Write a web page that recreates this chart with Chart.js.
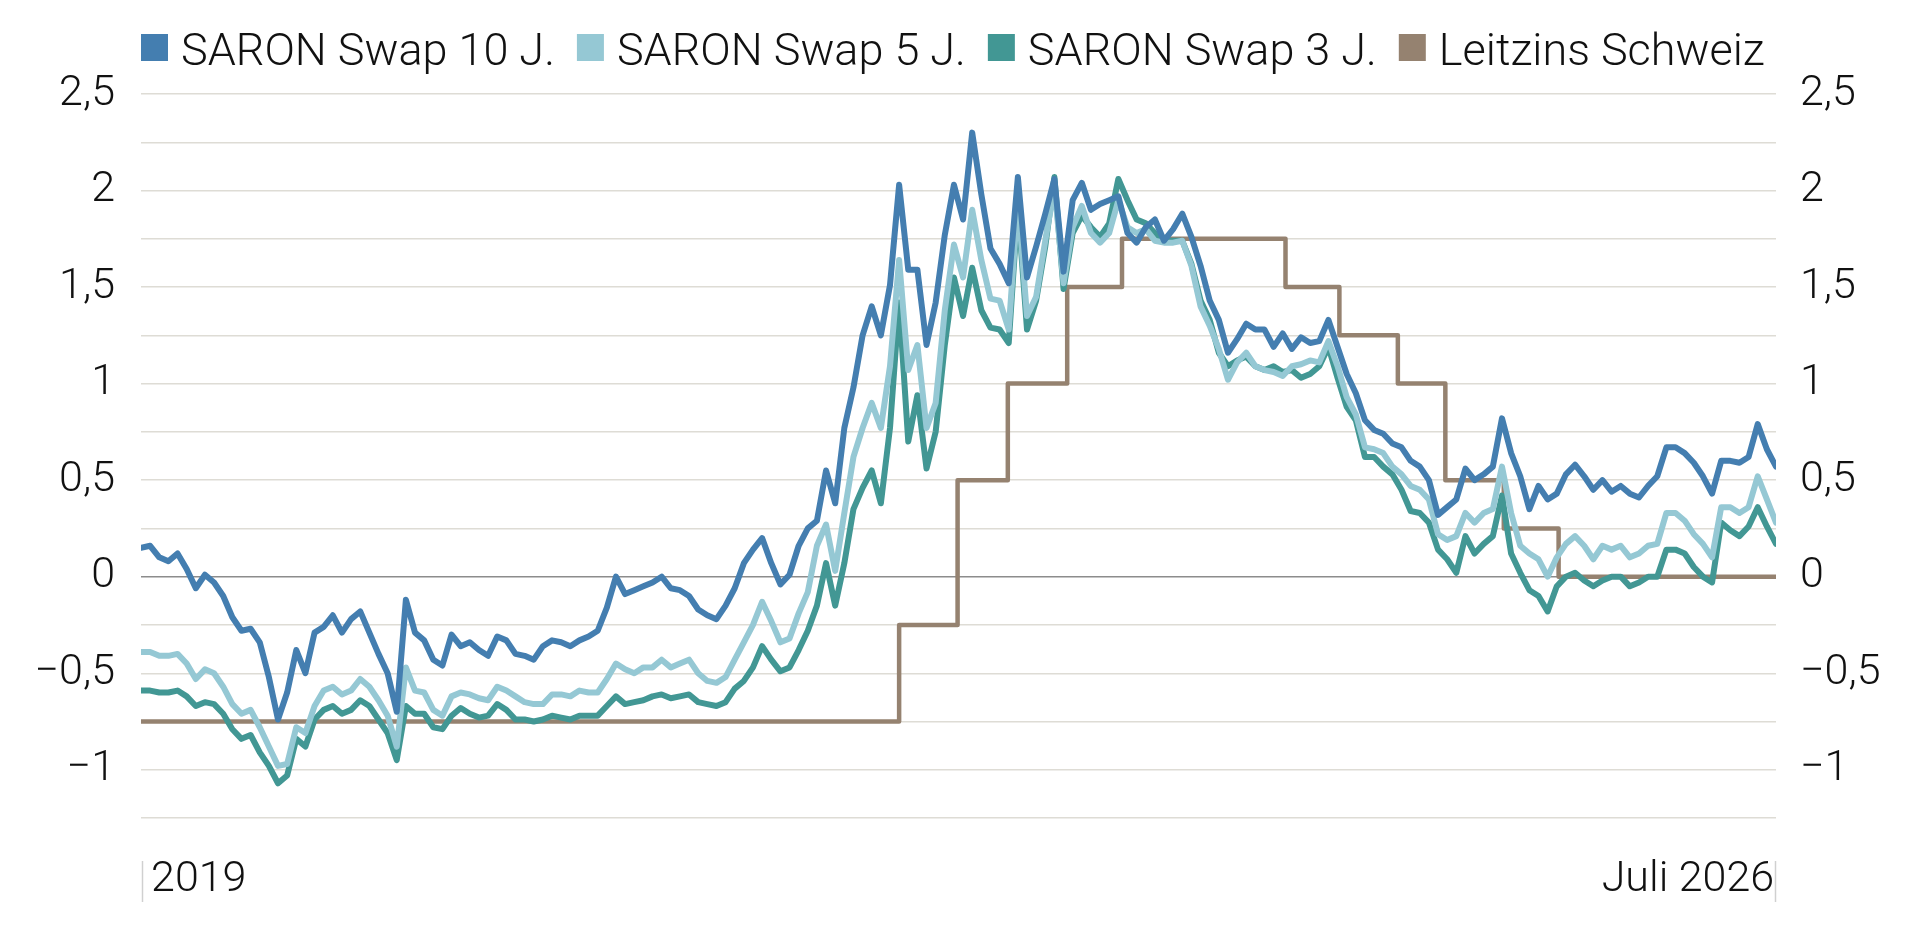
<!DOCTYPE html>
<html>
<head>
<meta charset="utf-8">
<script src="https://cdn.jsdelivr.net/npm/chart.js@4.4.1/dist/chart.umd.min.js"></script>
<style>
  html, body { margin: 0; padding: 0; background: #ffffff; }
  #wrap { width: 1920px; height: 929px; position: relative; }
</style>
</head>
<body>
<div id="wrap"><canvas id="chart"></canvas></div>
<script>
// ---- Data (x = months since Jan 2019, half-month sampling) ----
const seriesLabels = ['SARON Swap 10 J.', 'SARON Swap 5 J.', 'SARON Swap 3 J.', 'Leitzins Schweiz'];
const xTickLabels = ['2019', 'Juli 2026'];
const xTickValues = [0.55, 89.4];
const yGridValues = [-1.25, -1, -0.75, -0.5, -0.25, 0, 0.25, 0.5, 0.75, 1, 1.25, 1.5, 1.75, 2, 2.25, 2.5];
const yTickValues = [-1, -0.5, 0, 0.5, 1, 1.5, 2, 2.5];
const yTickLabels = ['\u22121', '\u22120,5', '0', '0,5', '1', '1,5', '2', '2,5'];
const monthStep = 0.5;

const swap10 = [
  0.15, 0.16, 0.10, 0.08, 0.12, 0.04, -0.06, 0.01, -0.03, -0.10,
  -0.21, -0.28, -0.27, -0.34, -0.52, -0.74, -0.60, -0.38, -0.50, -0.29,
  -0.26, -0.20, -0.29, -0.22, -0.18, -0.29, -0.40, -0.50, -0.70, -0.12,
  -0.29, -0.33, -0.43, -0.46, -0.30, -0.36, -0.34, -0.38, -0.41, -0.31,
  -0.33, -0.40, -0.41, -0.43, -0.36, -0.33, -0.34, -0.36, -0.33, -0.31,
  -0.28, -0.16, 0.00, -0.09, -0.07, -0.05, -0.03, 0.00, -0.06, -0.07,
  -0.10, -0.17, -0.20, -0.22, -0.15, -0.06, 0.07, 0.14, 0.20, 0.07,
  -0.04, 0.01, 0.16, 0.25, 0.29, 0.55, 0.38, 0.77, 0.98, 1.25,
  1.40, 1.25, 1.51, 2.03, 1.59, 1.59, 1.20, 1.42, 1.77, 2.03,
  1.85, 2.30, 1.98, 1.70, 1.62, 1.52, 2.07, 1.55, 1.71, 1.88,
  2.06, 1.58, 1.95, 2.04, 1.90, 1.93, 1.95, 1.97, 1.78, 1.73,
  1.81, 1.85, 1.74, 1.80, 1.88, 1.76, 1.61, 1.43, 1.33, 1.16,
  1.23, 1.31, 1.28, 1.28, 1.19, 1.26, 1.18, 1.24, 1.21, 1.22,
  1.33, 1.19, 1.05, 0.95, 0.81, 0.76, 0.74, 0.69, 0.67, 0.60,
  0.57, 0.50, 0.32, 0.36, 0.40, 0.56, 0.50, 0.53, 0.57, 0.82,
  0.64, 0.52, 0.35, 0.47, 0.40, 0.43, 0.53, 0.58, 0.52, 0.45,
  0.50, 0.44, 0.47, 0.43, 0.41, 0.47, 0.52, 0.67, 0.67, 0.64,
  0.59, 0.52, 0.43, 0.60, 0.60, 0.59, 0.62, 0.79, 0.66, 0.57
];

const swap5 = [
  -0.39, -0.39, -0.41, -0.41, -0.40, -0.45, -0.53, -0.48, -0.50, -0.57,
  -0.66, -0.71, -0.69, -0.78, -0.88, -0.98, -0.97, -0.78, -0.81, -0.67,
  -0.59, -0.57, -0.61, -0.59, -0.53, -0.57, -0.64, -0.72, -0.88, -0.47,
  -0.59, -0.60, -0.69, -0.72, -0.62, -0.60, -0.61, -0.63, -0.64, -0.57,
  -0.59, -0.62, -0.65, -0.66, -0.66, -0.61, -0.61, -0.62, -0.59, -0.60,
  -0.60, -0.53, -0.45, -0.48, -0.50, -0.47, -0.47, -0.43, -0.47, -0.45,
  -0.43, -0.50, -0.54, -0.55, -0.52, -0.43, -0.34, -0.25, -0.13, -0.23,
  -0.34, -0.32, -0.19, -0.08, 0.16, 0.27, 0.03, 0.33, 0.62, 0.77,
  0.90, 0.77, 1.09, 1.64, 1.07, 1.20, 0.77, 0.90, 1.38, 1.72,
  1.55, 1.90, 1.64, 1.44, 1.43, 1.28, 1.95, 1.35, 1.45, 1.74,
  2.02, 1.52, 1.81, 1.92, 1.78, 1.73, 1.78, 1.95, 1.81, 1.78,
  1.80, 1.74, 1.73, 1.73, 1.74, 1.61, 1.40, 1.30, 1.18, 1.02,
  1.11, 1.16, 1.09, 1.07, 1.06, 1.04, 1.09, 1.10, 1.12, 1.11,
  1.22, 1.09, 0.93, 0.84, 0.67, 0.66, 0.64, 0.57, 0.53, 0.47,
  0.45, 0.40, 0.22, 0.19, 0.21, 0.33, 0.28, 0.33, 0.35, 0.57,
  0.33, 0.16, 0.12, 0.09, 0.00, 0.10, 0.17, 0.21, 0.16, 0.09,
  0.16, 0.14, 0.16, 0.10, 0.12, 0.16, 0.17, 0.33, 0.33, 0.29,
  0.22, 0.17, 0.10, 0.36, 0.36, 0.33, 0.36, 0.52, 0.40, 0.28
];

const swap3 = [
  -0.59, -0.59, -0.60, -0.60, -0.59, -0.62, -0.67, -0.65, -0.66, -0.71,
  -0.79, -0.84, -0.82, -0.91, -0.98, -1.07, -1.03, -0.84, -0.88, -0.74,
  -0.69, -0.67, -0.71, -0.69, -0.64, -0.67, -0.74, -0.81, -0.95, -0.67,
  -0.71, -0.71, -0.78, -0.79, -0.72, -0.68, -0.71, -0.73, -0.72, -0.66,
  -0.69, -0.74, -0.74, -0.75, -0.74, -0.72, -0.73, -0.74, -0.72, -0.72,
  -0.72, -0.67, -0.62, -0.66, -0.65, -0.64, -0.62, -0.61, -0.63, -0.62,
  -0.61, -0.65, -0.66, -0.67, -0.65, -0.58, -0.54, -0.47, -0.36, -0.43,
  -0.49, -0.47, -0.38, -0.28, -0.15, 0.07, -0.15, 0.07, 0.35, 0.46,
  0.55, 0.38, 0.77, 1.42, 0.70, 0.94, 0.56, 0.75, 1.20, 1.55,
  1.35, 1.60, 1.38, 1.29, 1.28, 1.21, 1.92, 1.28, 1.43, 1.71,
  2.07, 1.49, 1.78, 1.87, 1.81, 1.76, 1.83, 2.06, 1.95, 1.85,
  1.83, 1.78, 1.74, 1.74, 1.74, 1.62, 1.43, 1.33, 1.16, 1.09,
  1.12, 1.14, 1.09, 1.07, 1.09, 1.06, 1.07, 1.03, 1.05, 1.09,
  1.19, 1.03, 0.88, 0.81, 0.62, 0.62, 0.57, 0.53, 0.45, 0.34,
  0.33, 0.28, 0.14, 0.09, 0.02, 0.21, 0.12, 0.17, 0.21, 0.42,
  0.12, 0.02, -0.07, -0.10, -0.18, -0.05, 0.00, 0.02, -0.02, -0.05,
  -0.02, 0.00, 0.00, -0.05, -0.03, 0.00, 0.00, 0.14, 0.14, 0.12,
  0.05, 0.00, -0.03, 0.28, 0.24, 0.21, 0.26, 0.36, 0.26, 0.17
];

// Policy rate: month of change (since Jan 2019) and new level
const rateMonths = [0, 41.5, 44.7, 47.45, 50.7, 53.7, 62.65, 65.6, 68.8, 71.4, 74.6, 77.6, 89.5];
const rateValues = [-0.75, -0.25, 0.5, 1.0, 1.5, 1.75, 1.5, 1.25, 1.0, 0.5, 0.25, 0, 0];

// ---- Styling ----
const seriesColors = ['#447eb0', '#95c8d4', '#429794', '#958270'];
const textColor = '#111111';
const fontFamily = 'Roboto, "Liberation Sans", sans-serif';

const toPoints = (arr) => arr.map((v, i) => ({ x: i * monthStep, y: v }));
const lineBase = { pointRadius: 0, pointHoverRadius: 0, tension: 0, fill: false, borderJoinStyle: 'round', borderCapStyle: 'round' };

const datasets = [
  Object.assign({ label: seriesLabels[0], data: toPoints(swap10), borderColor: seriesColors[0], backgroundColor: seriesColors[0], borderWidth: 6 }, lineBase),
  Object.assign({ label: seriesLabels[1], data: toPoints(swap5), borderColor: seriesColors[1], backgroundColor: seriesColors[1], borderWidth: 6 }, lineBase),
  Object.assign({ label: seriesLabels[2], data: toPoints(swap3), borderColor: seriesColors[2], backgroundColor: seriesColors[2], borderWidth: 6 }, lineBase),
  Object.assign({ label: seriesLabels[3], data: rateMonths.map((m, i) => ({ x: m, y: rateValues[i] })), borderColor: seriesColors[3], backgroundColor: seriesColors[3], borderWidth: 4.5, stepped: true }, lineBase)
];

const yLabel = (v) => {
  const idx = yTickValues.findIndex((t) => Math.abs(t - v) < 1e-9);
  return idx >= 0 ? yTickLabels[idx] : '';
};

// Legend drawn above the plot: square swatch, small gap, label text
const topLegend = {
  id: 'topLegend',
  afterDraw(chart) {
    const { ctx, chartArea } = chart;
    ctx.save();
    ctx.font = '300 45px ' + fontFamily;
    ctx.textBaseline = 'alphabetic';
    ctx.textAlign = 'left';
    let x = chartArea.left;
    chart.data.datasets.forEach((ds) => {
      ctx.fillStyle = ds.borderColor;
      ctx.fillRect(x, 34, 27, 27);
      ctx.fillStyle = textColor;
      ctx.fillText(ds.label, x + 40, 65);
      x += 40 + ctx.measureText(ds.label).width + 22;
    });
    ctx.restore();
  }
};

const edgeTicks = {
  id: 'edgeTicks',
  afterDraw(chart) {
    const { ctx, chartArea } = chart;
    const x = chart.scales.x;
    ctx.save();
    ctx.strokeStyle = '#d0d0d0';
    ctx.lineWidth = 1.5;
    [[x.min, 1.5], [x.max, -0.5]].forEach(([v, off]) => {
      const px = x.getPixelForValue(v) + off;
      ctx.beginPath();
      ctx.moveTo(px, chartArea.bottom + 43);
      ctx.lineTo(px, chartArea.bottom + 84);
      ctx.stroke();
    });
    ctx.restore();
  }
};

const tickFont = { family: fontFamily, weight: '300', size: 43 };

new Chart(document.getElementById('chart'), {
  type: 'line',
  data: { datasets },
  plugins: [topLegend, edgeTicks],
  options: {
    animation: false,
    responsive: true,
    maintainAspectRatio: false,
    devicePixelRatio: 1,
    layout: { padding: { top: 94, left: 0, right: 0, bottom: 0 } },
    plugins: {
      legend: { display: false },
      tooltip: { enabled: false }
    },
    scales: {
      x: {
        type: 'linear',
        min: 0,
        max: 89.5,
        afterBuildTicks: (s) => { s.ticks = xTickValues.map((v) => ({ value: v })); },
        afterFit: (s) => { s.height = 111; },
        grid: { display: false, drawTicks: false },
        border: { display: false },
        ticks: {
          align: 'inner',
          padding: 36,
          maxRotation: 0,
          autoSkip: false,
          color: textColor,
          font: { family: fontFamily, weight: '300', size: 43 },
          callback: (v, i) => xTickLabels[i]
        }
      },
      y: {
        position: 'left',
        min: -1.25,
        max: 2.5,
        afterBuildTicks: (s) => { s.ticks = yGridValues.map((v) => ({ value: v })); },
        afterFit: (s) => { s.width = 141; },
        grid: {
          drawTicks: false,
          color: (c) => (c.tick && c.tick.value === 0 ? '#8c8c8c' : '#dedcd5'),
          lineWidth: (c) => (c.tick && c.tick.value === 0 ? 1.6 : 1.4)
        },
        border: { display: false },
        ticks: { padding: 26, autoSkip: false, color: textColor, font: tickFont, callback: yLabel }
      },
      y2: {
        position: 'right',
        min: -1.25,
        max: 2.5,
        afterBuildTicks: (s) => { s.ticks = yGridValues.map((v) => ({ value: v })); },
        afterFit: (s) => { s.width = 144; },
        grid: { display: false, drawTicks: false },
        border: { display: false },
        ticks: { padding: 24, autoSkip: false, color: textColor, font: tickFont, callback: yLabel }
      }
    }
  }
});
</script>
</body>
</html>
